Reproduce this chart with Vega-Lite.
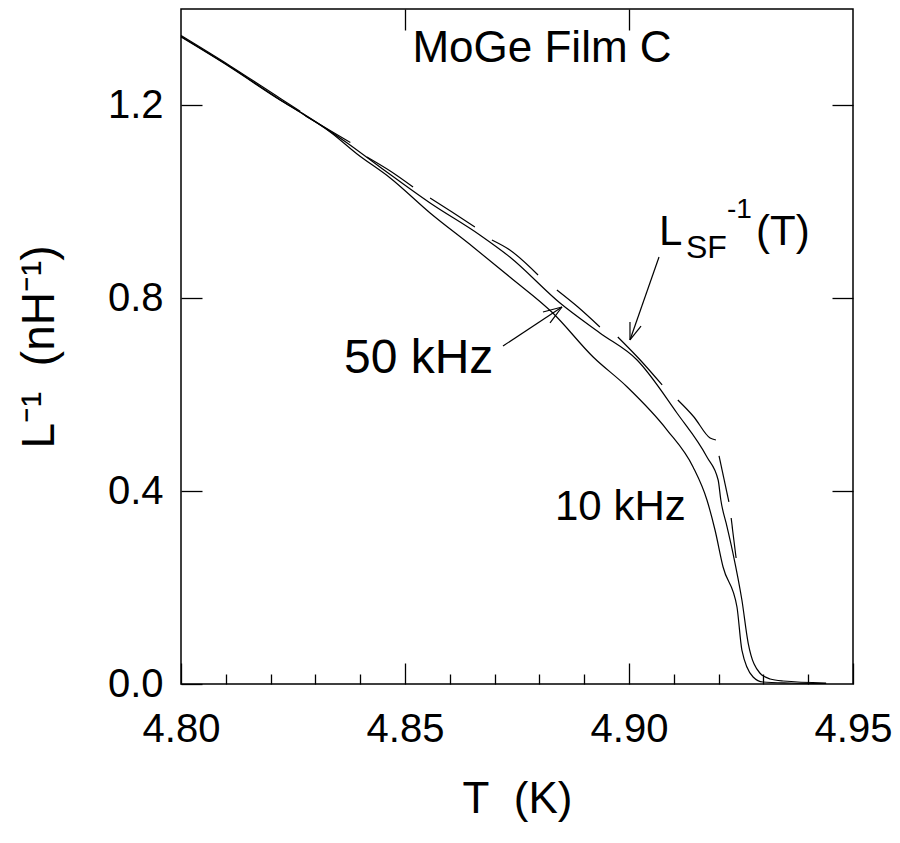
{
  "$schema": "https://vega.github.io/schema/vega-lite/v6.json",
  "width": 672,
  "height": 675,
  "autosize": "none",
  "padding": {"left": 181, "top": 9, "right": 47, "bottom": 159},
  "background": "white",
  "config": {
    "view": {"stroke": "black", "strokeWidth": 1.5},
    "axis": {
      "grid": false,
      "domain": false,
      "labelFont": "Liberation Sans",
      "titleFont": "Liberation Sans",
      "labelColor": "black",
      "titleColor": "black",
      "tickColor": "black",
      "tickWidth": 1.3,
      "labelFontSize": 40,
      "titleFontSize": 44,
      "titleFontWeight": "normal",
      "labelFlush": false,
      "labelOverlap": false
    },
    "text": {"font": "Liberation Sans", "color": "black"}
  },
  "datasets": {
    "curves": [
      {"s": "10 kHz", "T": 4.8000, "L": 1.3419},
      {"s": "10 kHz", "T": 4.8109, "L": 1.2797},
      {"s": "10 kHz", "T": 4.8221, "L": 1.2113},
      {"s": "10 kHz", "T": 4.8272, "L": 1.1822},
      {"s": "10 kHz", "T": 4.8333, "L": 1.1449},
      {"s": "10 kHz", "T": 4.8393, "L": 1.0993},
      {"s": "10 kHz", "T": 4.8467, "L": 1.0495},
      {"s": "10 kHz", "T": 4.8556, "L": 0.9769},
      {"s": "10 kHz", "T": 4.8652, "L": 0.9064},
      {"s": "10 kHz", "T": 4.8734, "L": 0.8442},
      {"s": "10 kHz", "T": 4.8830, "L": 0.7695},
      {"s": "10 kHz", "T": 4.8920, "L": 0.6782},
      {"s": "10 kHz", "T": 4.8996, "L": 0.6160},
      {"s": "10 kHz", "T": 4.9085, "L": 0.5268},
      {"s": "10 kHz", "T": 4.9143, "L": 0.4501},
      {"s": "10 kHz", "T": 4.9174, "L": 0.3816},
      {"s": "10 kHz", "T": 4.9192, "L": 0.3194},
      {"s": "10 kHz", "T": 4.9210, "L": 0.2427},
      {"s": "10 kHz", "T": 4.9241, "L": 0.1597},
      {"s": "10 kHz", "T": 4.9252, "L": 0.0705},
      {"s": "10 kHz", "T": 4.9277, "L": 0.0145},
      {"s": "10 kHz", "T": 4.9299, "L": 0.0041},
      {"s": "10 kHz", "T": 4.9359, "L": 0.0021},
      {"s": "10 kHz", "T": 4.9440, "L": 0.0010},
      {"s": "50 kHz", "T": 4.8000, "L": 1.3430},
      {"s": "50 kHz", "T": 4.8109, "L": 1.2805},
      {"s": "50 kHz", "T": 4.8221, "L": 1.2120},
      {"s": "50 kHz", "T": 4.8272, "L": 1.1830},
      {"s": "50 kHz", "T": 4.8371, "L": 1.1221},
      {"s": "50 kHz", "T": 4.8444, "L": 1.0723},
      {"s": "50 kHz", "T": 4.8556, "L": 0.9976},
      {"s": "50 kHz", "T": 4.8667, "L": 0.9313},
      {"s": "50 kHz", "T": 4.8734, "L": 0.8856},
      {"s": "50 kHz", "T": 4.8846, "L": 0.7902},
      {"s": "50 kHz", "T": 4.8935, "L": 0.7280},
      {"s": "50 kHz", "T": 4.9018, "L": 0.6720},
      {"s": "50 kHz", "T": 4.9107, "L": 0.5621},
      {"s": "50 kHz", "T": 4.9174, "L": 0.4708},
      {"s": "50 kHz", "T": 4.9199, "L": 0.4231},
      {"s": "50 kHz", "T": 4.9205, "L": 0.3816},
      {"s": "50 kHz", "T": 4.9219, "L": 0.3256},
      {"s": "50 kHz", "T": 4.9232, "L": 0.2717},
      {"s": "50 kHz", "T": 4.9252, "L": 0.1742},
      {"s": "50 kHz", "T": 4.9266, "L": 0.0850},
      {"s": "50 kHz", "T": 4.9292, "L": 0.0228},
      {"s": "50 kHz", "T": 4.9315, "L": 0.0104},
      {"s": "50 kHz", "T": 4.9344, "L": 0.0062},
      {"s": "50 kHz", "T": 4.9440, "L": 0.0021}
    ],
    "lsf": [
      {"seg": 0, "T": 4.8000, "L": 1.3450},
      {"seg": 0, "T": 4.8109, "L": 1.2825},
      {"seg": 0, "T": 4.8221, "L": 1.2150},
      {"seg": 0, "T": 4.8266, "L": 1.1880},
      {"seg": 1, "T": 4.8278, "L": 1.1780},
      {"seg": 1, "T": 4.8378, "L": 1.1230},
      {"seg": 2, "T": 4.8415, "L": 1.0931},
      {"seg": 2, "T": 4.8467, "L": 1.0640},
      {"seg": 2, "T": 4.8518, "L": 1.0308},
      {"seg": 3, "T": 4.8556, "L": 1.0080},
      {"seg": 3, "T": 4.8605, "L": 0.9790},
      {"seg": 3, "T": 4.8656, "L": 0.9479},
      {"seg": 4, "T": 4.8694, "L": 0.9209},
      {"seg": 4, "T": 4.8734, "L": 0.9002},
      {"seg": 4, "T": 4.8797, "L": 0.8483},
      {"seg": 5, "T": 4.8839, "L": 0.8172},
      {"seg": 5, "T": 4.8886, "L": 0.7819},
      {"seg": 5, "T": 4.8935, "L": 0.7405},
      {"seg": 6, "T": 4.8975, "L": 0.7197},
      {"seg": 6, "T": 4.9025, "L": 0.6720},
      {"seg": 6, "T": 4.9074, "L": 0.6202},
      {"seg": 7, "T": 4.9109, "L": 0.5890},
      {"seg": 7, "T": 4.9145, "L": 0.5538},
      {"seg": 7, "T": 4.9181, "L": 0.5102},
      {"seg": 7, "T": 4.9194, "L": 0.5061},
      {"seg": 8, "T": 4.9201, "L": 0.4729},
      {"seg": 8, "T": 4.9223, "L": 0.3775},
      {"seg": 9, "T": 4.9228, "L": 0.3443},
      {"seg": 9, "T": 4.9239, "L": 0.2613}
    ],
    "arrows": [
      {"x": 4.87187, "y": 0.7010, "x2": 4.88504, "y2": 0.7819},
      {"x": 4.88504, "y": 0.7819, "x2": 4.88080, "y2": 0.7716},
      {"x": 4.88504, "y": 0.7819, "x2": 4.88237, "y2": 0.7488},
      {"x": 4.90670, "y": 0.8856, "x2": 4.90022, "y2": 0.7135},
      {"x": 4.90022, "y": 0.7135, "x2": 4.90268, "y2": 0.7425},
      {"x": 4.90022, "y": 0.7135, "x2": 4.90022, "y2": 0.7508}
    ]
  },
  "layer": [
    {
      "data": {"name": "curves"},
      "mark": {"type": "line", "color": "black", "strokeWidth": 1.2, "interpolate": "monotone"},
      "encoding": {
        "x": {
          "field": "T", "type": "quantitative",
          "scale": {"domain": [4.8, 4.95], "nice": false, "zero": false},
          "axis": {
            "orient": "bottom",
            "values": [4.80, 4.81, 4.82, 4.83, 4.84, 4.85, 4.86, 4.87, 4.88, 4.89, 4.90, 4.91, 4.92, 4.93, 4.94, 4.95],
            "labelExpr": "abs(datum.value*20 - round(datum.value*20)) < 0.001 ? format(datum.value, '.2f') : ''",
            "tickSize": {"condition": {"test": "abs(datum.value*20 - round(datum.value*20)) < 0.001", "value": -21}, "value": -10},
            "labelPadding": 46,
            "title": "T\u00a0\u00a0(K)",
            "titlePadding": 17
          }
        },
        "y": {
          "field": "L", "type": "quantitative",
          "scale": {"domain": [0, 1.4], "nice": false},
          "axis": {
            "orient": "left",
            "values": [0, 0.4, 0.8, 1.2],
            "format": ".1f",
            "tickSize": -21,
            "labelPadding": 39,
            "title": "L⁻¹\u00a0\u00a0(nH⁻¹)",
            "titleFontSize": 46,
            "titlePadding": 44
          }
        },
        "detail": {"field": "s", "type": "nominal"}
      }
    },
    {
      "data": {"name": "lsf"},
      "mark": {"type": "line", "color": "black", "strokeWidth": 1.2, "interpolate": "monotone"},
      "encoding": {
        "x": {"field": "T", "type": "quantitative", "axis": null},
        "y": {"field": "L", "type": "quantitative", "axis": null},
        "detail": {"field": "seg", "type": "nominal"}
      }
    },
    {
      "data": {"name": "arrows"},
      "mark": {"type": "rule", "color": "black", "strokeWidth": 1.2},
      "encoding": {
        "x": {"field": "x", "type": "quantitative", "axis": null},
        "y": {"field": "y", "type": "quantitative", "axis": null},
        "x2": {"field": "x2"},
        "y2": {"field": "y2"}
      }
    },
    {
      "data": {"values": [{"t": "MoGe Film C", "x": 4.88058, "y": 1.2901}]},
      "mark": {"type": "text", "fontSize": 44, "align": "center", "baseline": "alphabetic"},
      "encoding": {
        "x": {"field": "x", "type": "quantitative", "axis": null},
        "y": {"field": "y", "type": "quantitative", "axis": null},
        "text": {"field": "t"}
      }
    },
    {
      "data": {"values": [{"t": "50 kHz", "x": 4.83638, "y": 0.6450}]},
      "mark": {"type": "text", "fontSize": 48, "align": "left", "baseline": "alphabetic"},
      "encoding": {
        "x": {"field": "x", "type": "quantitative", "axis": null},
        "y": {"field": "y", "type": "quantitative", "axis": null},
        "text": {"field": "t"}
      }
    },
    {
      "data": {"values": [
        {"t": "10 kHz", "x": 4.88348, "y": 0.3402},
        {"t": "L", "x": 4.90670, "y": 0.9105},
        {"t": "(T)", "x": 4.92835, "y": 0.9105}
      ]},
      "mark": {"type": "text", "fontSize": 42, "align": "left", "baseline": "alphabetic"},
      "encoding": {
        "x": {"field": "x", "type": "quantitative", "axis": null},
        "y": {"field": "y", "type": "quantitative", "axis": null},
        "text": {"field": "t"}
      }
    },
    {
      "data": {"values": [{"t": "SF", "x": 4.91272, "y": 0.8836}]},
      "mark": {"type": "text", "fontSize": 32, "align": "left", "baseline": "alphabetic"},
      "encoding": {
        "x": {"field": "x", "type": "quantitative", "axis": null},
        "y": {"field": "y", "type": "quantitative", "axis": null},
        "text": {"field": "t"}
      }
    },
    {
      "data": {"values": [{"t": "-1", "x": 4.92187, "y": 0.9665}]},
      "mark": {"type": "text", "fontSize": 28, "align": "left", "baseline": "alphabetic"},
      "encoding": {
        "x": {"field": "x", "type": "quantitative", "axis": null},
        "y": {"field": "y", "type": "quantitative", "axis": null},
        "text": {"field": "t"}
      }
    },
    {
      "data": {"values": [{"T": 4.9, "L": 0.5}]},
      "mark": {"type": "point", "opacity": 0},
      "encoding": {
        "x": {
          "field": "T", "type": "quantitative",
          "axis": {"orient": "top", "values": [4.85, 4.90], "labels": false, "tickSize": -21, "title": null}
        },
        "y": {
          "field": "L", "type": "quantitative",
          "axis": {"orient": "right", "values": [0.4, 0.8, 1.2], "labels": false, "tickSize": -21, "title": null}
        }
      }
    }
  ],
  "resolve": {"axis": {"x": "independent", "y": "independent"}}
}
